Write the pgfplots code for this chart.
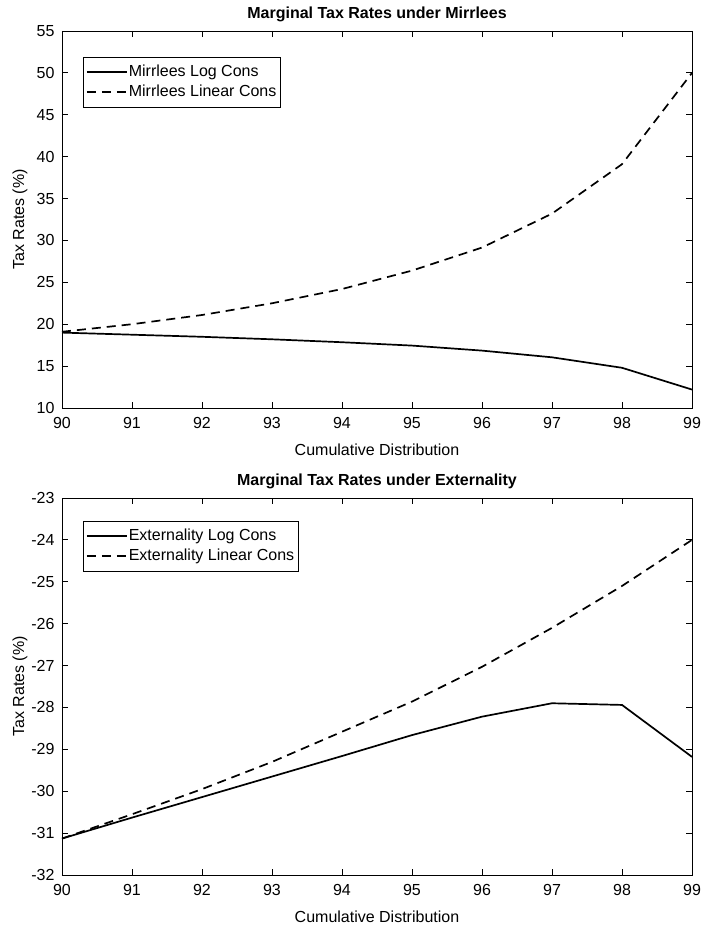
\documentclass[border=0pt]{standalone}
\usepackage{pgfplots}
\pgfplotsset{compat=1.18}
\usepackage{fontspec}
\setmainfont{Liberation Sans}
\begin{document}
\fontsize{16bp}{18bp}\selectfont
\begin{tikzpicture}
\pgfplotsset{
  every axis/.append style={
    scale only axis,
    width=630bp, height=377bp,
    xmin=90, xmax=99,
    xtick={90,91,...,99},
    tick align=inside,
    xtick pos=both, ytick pos=both,
    major tick length=6bp,
    axis line style={line width=0.8bp},
    every tick/.style={line width=0.8bp, black},
    /pgf/number format/assume math mode=true,
    ticklabel style={font=\fontsize{16bp}{18bp}\selectfont},
    xticklabel style={yshift=-4bp},
    yticklabel style={xshift=-2bp},
    label style={font=\fontsize{16bp}{18bp}\selectfont},
    xlabel style={at={(axis description cs:0.5,0)}, anchor=center, yshift=-42bp},
    ylabel style={at={(axis description cs:0,0.5)}, anchor=center, yshift=42bp},
    title style={at={(axis description cs:0.5,1)}, anchor=base, yshift=7bp, font=\fontsize{16bp}{18bp}\selectfont\bfseries},
    legend cell align=left,
    legend style={draw=black, line width=0.6bp, font=\fontsize{16bp}{18bp}\selectfont,
      inner xsep=3bp, inner ysep=6bp, row sep=2bp,
      nodes={inner xsep=1bp, inner ysep=2bp}},
    legend image code/.code={\draw[#1] (0bp,0bp) -- (40bp,0bp);},
  },
  solidline/.style={black, line width=1.7bp},
  dashline/.style={black, line width=1.7bp, dash pattern=on 9bp off 6bp},
}
\path[use as bounding box] (-62bp,-519bp) rectangle (641bp,408bp);

\begin{axis}[
  at={(0bp,0bp)}, anchor=south west,
  ymin=10, ymax=55, ytick={10,15,...,55},
  title={Marginal Tax Rates under Mirrlees},
  xlabel={Cumulative Distribution},
  ylabel={Tax Rates (\%)},
  legend style={at={(axis description cs:0.033,0.931)}, anchor=north west},
]
\addplot[solidline] coordinates {
(90,19.0) (91,18.75) (92,18.5) (93,18.2) (94,17.85) (95,17.45) (96,16.85) (97,16.05) (98,14.8) (99,12.2)};
\addlegendentry{Mirrlees Log Cons}
\addplot[dashline] coordinates {
(90,19.1) (91,20.0) (92,21.1) (93,22.5) (94,24.2) (95,26.4) (96,29.15) (97,33.2) (98,39.1) (99,50.0)};
\addlegendentry{Mirrlees Linear Cons}
\end{axis}

\begin{axis}[
  at={(0bp,-467bp)}, anchor=south west,
  ymin=-32, ymax=-23, ytick={-32,-31,...,-23},
  title={Marginal Tax Rates under Externality},
  xlabel={Cumulative Distribution},
  ylabel={Tax Rates (\%)},
  legend style={at={(axis description cs:0.033,0.94)}, anchor=north west},
]
\addplot[solidline] coordinates {
(90,-31.13) (91,-30.63) (92,-30.14) (93,-29.65) (94,-29.16) (95,-28.66) (96,-28.22) (97,-27.9) (98,-27.94) (99,-29.18)};
\addlegendentry{Externality Log Cons}
\addplot[dashline] coordinates {
(90,-31.13) (91,-30.55) (92,-29.95) (93,-29.3) (94,-28.58) (95,-27.86) (96,-27.03) (97,-26.1) (98,-25.1) (99,-24.0)};
\addlegendentry{Externality Linear Cons}
\end{axis}
\end{tikzpicture}
\end{document}
